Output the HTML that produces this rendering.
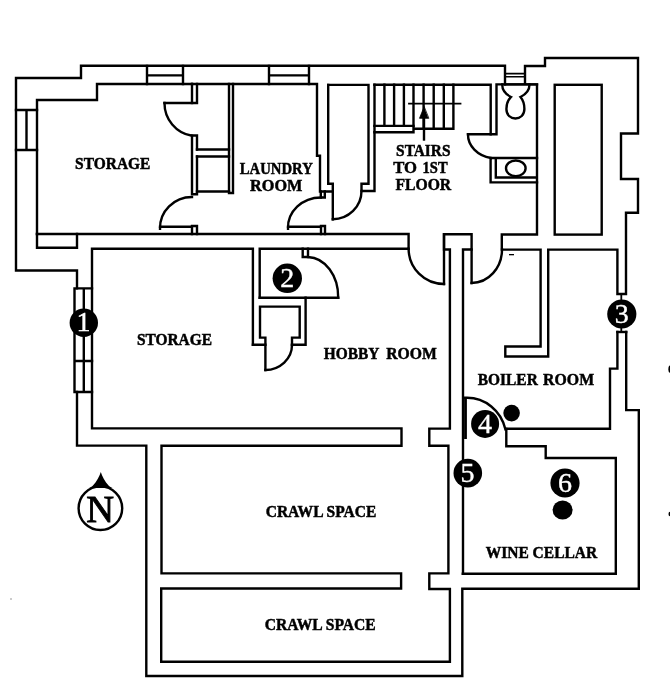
<!DOCTYPE html>
<html><head><meta charset="utf-8">
<style>
html,body{margin:0;padding:0;background:#fff;}
body{width:670px;height:686px;overflow:hidden;}
svg{display:block;filter:grayscale(1);}
.w{fill:none;stroke:#000;stroke-width:2.4;stroke-linejoin:miter;stroke-linecap:square;}
.t{font-family:"Liberation Serif",serif;font-weight:bold;font-size:16.8px;fill:#000;stroke:#000;stroke-width:0.5;}
.n{font-family:"Liberation Serif",serif;font-size:28px;fill:#fff;stroke:#fff;stroke-width:0.4;}
</style></head>
<body>
<svg width="670" height="686" viewBox="0 0 670 686">
<g class="w">
<!-- outer wall top-left -->
<path d="M77,288.4 V270.5 H16 V78 H81 V65.8 H505 V84.4"/>
<!-- upper storage inner -->
<path d="M37,234 V100 H97 V84 H192"/>
<!-- left windows -->
<path d="M16,110 H37 M16,150 H37 M26.5,110 V150"/>
<!-- top windows -->
<path d="M147,66 V84 M183,66 V84 M147,75.4 H183"/>
<path d="M269,66 V84 M309,66 V84 M269,75.4 H309"/>
<!-- inner top line -->
<path d="M192,84 H317 V155.7 H320 V191.5 H332.8"/>
<!-- partition storage/closets -->
<path d="M164.5,103 H197 V84"/>
<path d="M192,84 V103"/>
<path d="M197,149.5 V135.5 H192 V194.3 H197 V156.5"/>
<path d="M197,149.5 H229 M197,156.5 H229 M197,191.5 H229"/>
<path d="M229,84 V193 H233 V84"/>
<!-- storage door 1 arc -->
<path d="M164.5,103 A33,33 0 0 0 192,135.8"/>
<!-- storage door 2 -->
<path d="M192,197 A32,31 0 0 0 160,228.8"/>
<path d="M160,226.7 H192 V234 M197,234 V226 H192"/>
<!-- laundry door -->
<path d="M321,197.5 A33,30 0 0 0 288,228.8"/>
<path d="M288,226.7 H321 V234 M325,234 V226 H321"/>
<path d="M320.8,191.5 V197.5 H324.8 V191.5"/>
<!-- corridor -->
<path d="M37,234 H408.6 V248.7 H259.7 V297.7"/>
<path d="M252.9,344.8 V248.7 H92 V428.4 H401.5 V445.8 H161.5 V573.4 H401.1 V588.5 H161.2 V661.8 H449.9 V589 H429.3 V573.4 H448.4 V445.8 H429.3 V428.6 H449.9 V249.5 H444 V234.3 H471.6 V249.5 H463 V573.7"/>
<path d="M444,234.3 V284"/>
<path d="M471.6,249.5 V283"/>
<!-- left small box -->
<path d="M37,234 V247.8 H77 V234"/>
<!-- doors at corridor end -->
<path d="M408.6,248.7 A35.4,35.4 0 0 0 444,284"/>
<path d="M471.6,283 A30.4,33.6 0 0 0 502,249.4"/>
<!-- closet between laundry and stairs -->
<path d="M328.2,84.9 H368.5 V183.8 H361.5 V191 H374.5 V84.7"/>
<path d="M328.2,84.9 V183.8 H332.8 V219.2"/>
<path d="M332.8,219.2 A28.7,28.2 0 0 0 361.5,191"/>
<!-- stairs -->
<path d="M374.4,84.7 H490.7 V134.3"/>
<path d="M374.4,125.9 H413.5 V132.3 H374.4 M413.5,125.9 V128.8 H453.4 V84.7"/>
<path d="M384.4,84.7 V125.9 M394.1,84.7 V125.9 M403.9,84.7 V125.9 M413.5,84.7 V125.9 M423.6,84.7 V128.8 M433.7,84.7 V128.8 M443.8,84.7 V128.8"/>
<path d="M409,103.6 H460.5" style="stroke-width:1.8"/>
<path d="M424,117 V139.5"/>
<path d="M424,107 L419.5,118.3 L428.4,118.3 Z" style="fill:#000;stroke-width:0.8"/>
<!-- bathroom -->
<path d="M505,84.4 H537"/>
<path d="M505,73.6 H525 M505,76.8 H525" style="stroke-width:1.6"/>
<path d="M525,84.4 V66 H545 V58 H638 V133.5 H621 V179 H638 V212.7 H626 V294 H617.4 V249.6 H548.2 V356.5 H505.3 V346.5 H540.6 V249.6 H501.8 V234.5 H537 V84.4 H496.5 V134.3 H468"/>
<path d="M468,134.3 A28.5,23.7 0 0 0 491,158"/>
<path d="M490.6,158 H537 M490.6,158 V182.4 H537 M495.8,158 V177.5 H535.5"/>
<ellipse cx="515.8" cy="168.3" rx="9.8" ry="7.8"/>
<!-- toilet -->
<path d="M502.2,84.5 C502.2,91 507,95 511,97 C508,100 506.4,104 506.4,109 C506.4,115 510.5,118.5 515.4,118.5 C520.3,118.5 524.4,115 524.4,109 C524.4,104 523,100 520.5,97 C524.5,95 529.5,91 529.5,84.5"/>
<!-- tall closet -->
<rect x="554.7" y="84.8" width="47" height="149.8"/>
<!-- right wall lower -->
<path d="M617.4,332 V368.6 H610 V428.8 H506"/>
<path d="M626.2,332 V410.1 H638.8 V588.7 H462.3 V676 H146.3 V445.6 H77 V392"/>
<path d="M617.4,332 H626.2"/>
<path d="M621.3,294 V301 M621.3,327 V332" style="stroke-width:1.8"/>
<!-- wine cellar -->
<path d="M506.3,429 V446.3 H545.7 V458 H615.8 V573.8 H462.8"/>
<!-- door 4 -->
<path d="M465.5,398.8 V439" style="stroke-width:2.8;stroke-linecap:butt"/>
<path d="M465,397.8 H466.5 A39.5,41 0 0 1 505.4,429.3"/>
<!-- crawl spaces -->
<!-- window 1 -->
<path d="M74.5,288.4 H92 M74.5,288.4 V392 H92 M83.8,288.4 V392 M74.5,361 H92"/>
<!-- closet 2 and lower closet -->
<path d="M252.9,344.8 H265.4 M292,344.8 H305.6 V297.7"/>
<path d="M259.7,297.7 H338.2"/>
<path d="M302.7,248.6 V257 H308 V248.6"/>
<path d="M308,257 A31,40 0 0 1 338.2,297.7"/>
<path d="M260,306.6 H299.7 V337.6 H292 V345 M260,306.6 V337.6 H265.4 V370"/>
<path d="M265.4,370 A27,25 0 0 0 292,345"/>
</g>
<!-- numbered circles -->
<g fill="#000">
<circle cx="83.8" cy="322.7" r="14.2"/>
<circle cx="287.3" cy="278.3" r="14.7"/>
<circle cx="621.8" cy="314" r="14.6"/>
<circle cx="485.1" cy="423.9" r="14"/>
<circle cx="467.8" cy="473.1" r="14.3"/>
<circle cx="565" cy="483" r="14.6"/>
<circle cx="511.6" cy="413.1" r="8.3"/>
<ellipse cx="562.6" cy="510" rx="10" ry="9.6"/>
</g>
<g class="n" text-anchor="middle">
<text x="83.6" y="331.3">1</text>
<text x="287.2" y="286.8">2</text>
<text x="621.8" y="323">3</text>
<text x="485.1" y="432.5">4</text>
<text x="467.5" y="482">5</text>
<text x="565" y="492">6</text>
</g>
<!-- compass -->
<circle cx="100.4" cy="508.2" r="21.8" fill="none" stroke="#000" stroke-width="2.4"/>
<path d="M100.8,472 C99.5,476 97,481.5 92.5,486 Q90.5,487.5 89,488 L112.5,488 Q111,487.5 109,486 C104.6,481.5 102.1,476 100.8,472 Z" fill="#000"/>
<text x="100.2" y="522" text-anchor="middle" style="font-family:'Liberation Serif',serif;font-size:38.5px;stroke:#000;stroke-width:0.9;">N</text>
<!-- labels -->
<g class="t">
<text x="75.1" y="169.2" textLength="75.3" lengthAdjust="spacingAndGlyphs">STORAGE</text>
<text x="239.7" y="173.9" textLength="73.1" lengthAdjust="spacingAndGlyphs">LAUNDRY</text>
<text x="250.1" y="190.6" textLength="52.3" lengthAdjust="spacingAndGlyphs">ROOM</text>
<text x="396.1" y="156.2" textLength="54.4" lengthAdjust="spacingAndGlyphs">STAIRS</text>
<text x="393.2" y="173" textLength="23.8" lengthAdjust="spacingAndGlyphs">TO</text>
<text x="422.6" y="173" textLength="25" lengthAdjust="spacingAndGlyphs">1ST</text>
<text x="395.4" y="189.8" textLength="55.8" lengthAdjust="spacingAndGlyphs">FLOOR</text>
<text x="136.9" y="344.6" textLength="75.1" lengthAdjust="spacingAndGlyphs">STORAGE</text>
<text x="323.7" y="359.3" textLength="55.6" lengthAdjust="spacingAndGlyphs">HOBBY</text>
<text x="386.2" y="359.3" textLength="50.6" lengthAdjust="spacingAndGlyphs">ROOM</text>
<text x="477.8" y="385.2" textLength="60" lengthAdjust="spacingAndGlyphs">BOILER</text>
<text x="543.1" y="385.2" textLength="51" lengthAdjust="spacingAndGlyphs">ROOM</text>
<text x="265.7" y="516.7" textLength="110.6" lengthAdjust="spacingAndGlyphs">CRAWL SPACE</text>
<text x="264.7" y="630.3" textLength="111" lengthAdjust="spacingAndGlyphs">CRAWL SPACE</text>
<text x="485.7" y="557.9" textLength="111.5" lengthAdjust="spacingAndGlyphs">WINE CELLAR</text>
</g>
<g fill="#000">
<rect x="509" y="254" width="5" height="1.3"/>
<circle cx="11" cy="599" r="0.8" fill="#888"/>
<ellipse cx="670" cy="369.2" rx="1.6" ry="3.6"/>
<ellipse cx="670" cy="514" rx="1.5" ry="2.3"/>
</g>
</svg>
</body></html>
